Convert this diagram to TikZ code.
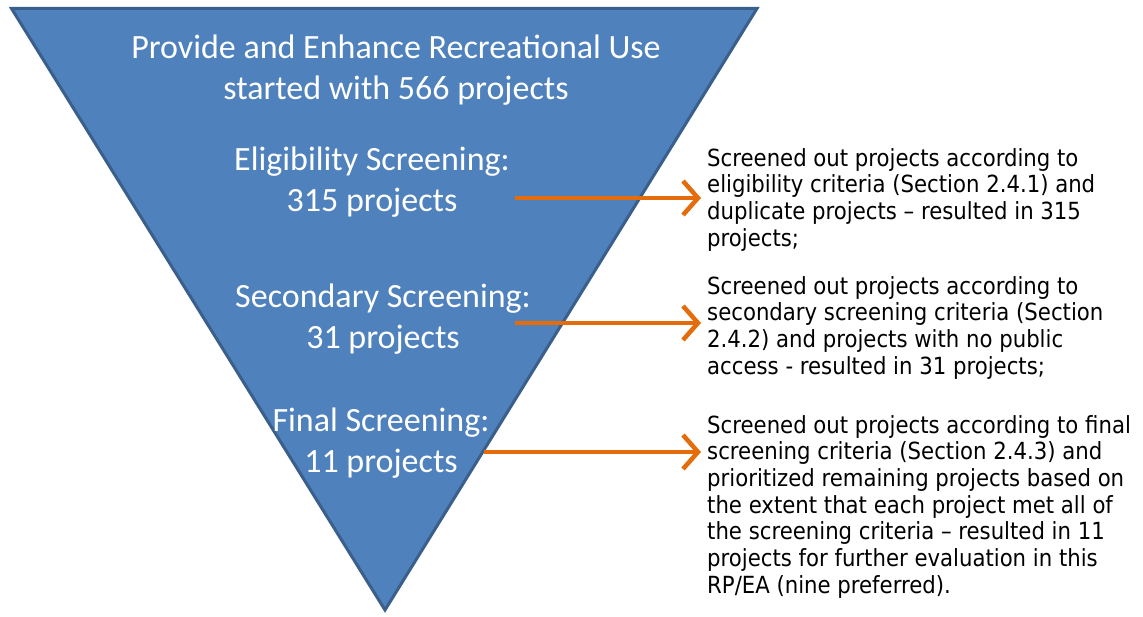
\documentclass[tikz,border=0pt]{standalone}
\usepackage{fontspec}
\setmainfont{Carlito}
\newfontfamily\rightfont{DejaVu Sans Condensed}
\usetikzlibrary{arrows.meta}
\definecolor{funnelblue}{HTML}{4F81BD}
\definecolor{funnelborder}{HTML}{3A5F8B}
\definecolor{arroworange}{HTML}{E46C0A}
\tikzset{
  funnel/.style={fill=funnelblue,draw=funnelborder,line width=3pt,line join=miter},
  stagetext/.style={text=white,align=center,inner sep=0pt,font=\fontsize{34}{41.5}\selectfont},
  notetext/.style={text=black,align=left,anchor=north west,inner sep=0pt,font=\rightfont\fontsize{23.6}{26.7}\selectfont},
  flowarrow/.style={draw=arroworange,line width=4pt,-{Straight Barb[length=15pt,width=34pt,line width=4.5pt]}}
}
\begin{document}
\begin{tikzpicture}[x=1pt,y=-1pt]
\useasboundingbox (0,0) rectangle (1143,617);
\coordinate (tl) at (11.5,8.5);
\coordinate (tr) at (757,8.5);
\coordinate (apex) at (385,610);
\draw[funnel] (tl) -- (tr) -- (apex) -- cycle;

\node[stagetext] (top) at (396,70) {Provide and Enhance Recreational Use\\started with 566 projects};
\node[stagetext] (elig) at (372,182) {Eligibility Screening:\\315 projects};
\node[stagetext] (sec) at (383,319) {Secondary Screening:\\31 projects};
\node[stagetext] (fin) at (381,443) {Final Screening:\\11 projects};

\node[notetext] (n1) at (707,148) {Screened out projects according to\\eligibility criteria (Section 2.4.1) and\\duplicate projects – resulted in 315\\projects;};
\node[notetext] (n2) at (707,276) {Screened out projects according to\\secondary screening criteria (Section\\2.4.2) and projects with no public\\access - resulted in 31 projects;};
\node[notetext] (n3) at (707,415) {Screened out projects according to final\\screening criteria (Section 2.4.3) and\\prioritized remaining projects based on\\the extent that each project met all of\\the screening criteria – resulted in 11\\projects for further evaluation in this\\RP/EA (nine preferred).};

\coordinate (s1) at (515,198);
\coordinate (e1) at (701,198);
\coordinate (s2) at (515,323);
\coordinate (e2) at (701,323);
\coordinate (s3) at (484,452);
\coordinate (e3) at (701,452);
\draw[flowarrow] (s1) -- (e1);
\draw[flowarrow] (s2) -- (e2);
\draw[flowarrow] (s3) -- (e3);
\end{tikzpicture}
\end{document}
